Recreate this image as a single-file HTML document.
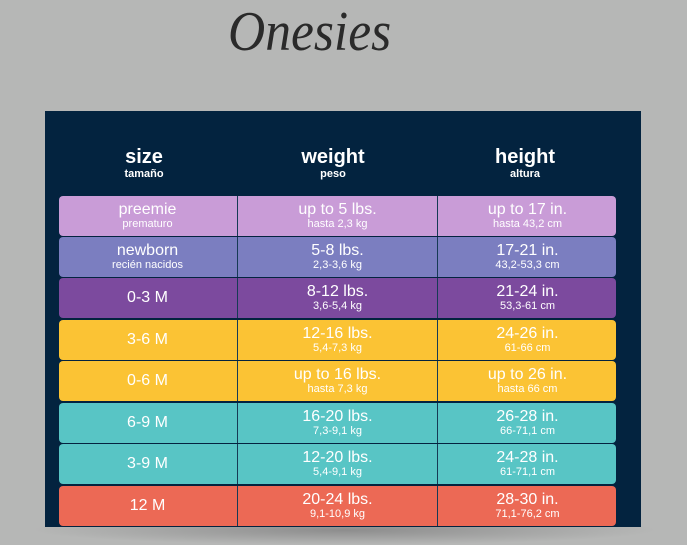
<!DOCTYPE html>
<html><head><style>
body{margin:0;width:687px;height:541px;background:#b6b7b6;position:relative;overflow:hidden;font-family:"Liberation Sans",sans-serif;}
.title{position:absolute;left:228px;top:0px;font-family:"Liberation Serif",serif;font-style:italic;font-size:56px;color:#2a2a2a;letter-spacing:0px;transform:scaleX(0.92);transform-origin:left;}
.shadow{position:absolute;left:30px;top:515px;width:630px;height:30px;background:radial-gradient(ellipse at center,#8d8d8d 0%,#b6b7b6 70%);}
.panel{position:absolute;left:45px;top:111px;width:596px;height:416px;background:#03233f;}
.hd{position:absolute;top:146px;color:#fff;text-align:center;width:200px;}
.hd b{display:block;font-size:20px;line-height:22px;}
.hd span{display:block;font-size:11px;font-weight:bold;line-height:12px;}
.row{position:absolute;left:59px;width:557px;height:40px;border-radius:4px;color:#fff;}
.c{position:absolute;top:0;height:40px;text-align:center;display:flex;flex-direction:column;justify-content:center;line-height:16px;}
.c1{left:0;width:177px}.c2{left:178px;width:199px;border-left:1px solid #163a55;}.c3{left:378px;width:179px;border-left:1px solid #163a55;}
.m{font-size:16px}.s{font-size:11px;line-height:13px}
</style></head><body>
<div class="title">Onesies</div>
<div class="shadow"></div>
<div class="panel"></div>
<div class="hd" style="left:44px"><b>size</b><span>tamaño</span></div>
<div class="hd" style="left:233px"><b>weight</b><span>peso</span></div>
<div class="hd" style="left:425px"><b>height</b><span>altura</span></div>

<div class="row" style="top:196px;background:#c99cd7"><div class="c c1"><div class="m">preemie</div><div class="s">prematuro</div></div><div class="c c2"><div class="m">up to 5 lbs.</div><div class="s">hasta 2,3 kg</div></div><div class="c c3"><div class="m">up to 17 in.</div><div class="s">hasta 43,2 cm</div></div></div>
<div class="row" style="top:237px;background:#7b7ec0"><div class="c c1"><div class="m">newborn</div><div class="s">recién nacidos</div></div><div class="c c2"><div class="m">5-8 lbs.</div><div class="s">2,3-3,6 kg</div></div><div class="c c3"><div class="m">17-21 in.</div><div class="s">43,2-53,3 cm</div></div></div>
<div class="row" style="top:278px;background:#7c4a9e"><div class="c c1"><div class="m">0-3 M</div></div><div class="c c2"><div class="m">8-12 lbs.</div><div class="s">3,6-5,4 kg</div></div><div class="c c3"><div class="m">21-24 in.</div><div class="s">53,3-61 cm</div></div></div>
<div class="row" style="top:320px;background:#fbc334"><div class="c c1"><div class="m">3-6 M</div></div><div class="c c2"><div class="m">12-16 lbs.</div><div class="s">5,4-7,3 kg</div></div><div class="c c3"><div class="m">24-26 in.</div><div class="s">61-66 cm</div></div></div>
<div class="row" style="top:361px;background:#fbc334"><div class="c c1"><div class="m">0-6 M</div></div><div class="c c2"><div class="m">up to 16 lbs.</div><div class="s">hasta 7,3 kg</div></div><div class="c c3"><div class="m">up to 26 in.</div><div class="s">hasta 66 cm</div></div></div>
<div class="row" style="top:403px;background:#58c5c5"><div class="c c1"><div class="m">6-9 M</div></div><div class="c c2"><div class="m">16-20 lbs.</div><div class="s">7,3-9,1 kg</div></div><div class="c c3"><div class="m">26-28 in.</div><div class="s">66-71,1 cm</div></div></div>
<div class="row" style="top:444px;background:#58c5c5"><div class="c c1"><div class="m">3-9 M</div></div><div class="c c2"><div class="m">12-20 lbs.</div><div class="s">5,4-9,1 kg</div></div><div class="c c3"><div class="m">24-28 in.</div><div class="s">61-71,1 cm</div></div></div>
<div class="row" style="top:486px;background:#ec6955"><div class="c c1"><div class="m">12 M</div></div><div class="c c2"><div class="m">20-24 lbs.</div><div class="s">9,1-10,9 kg</div></div><div class="c c3"><div class="m">28-30 in.</div><div class="s">71,1-76,2 cm</div></div></div>
</body></html>
